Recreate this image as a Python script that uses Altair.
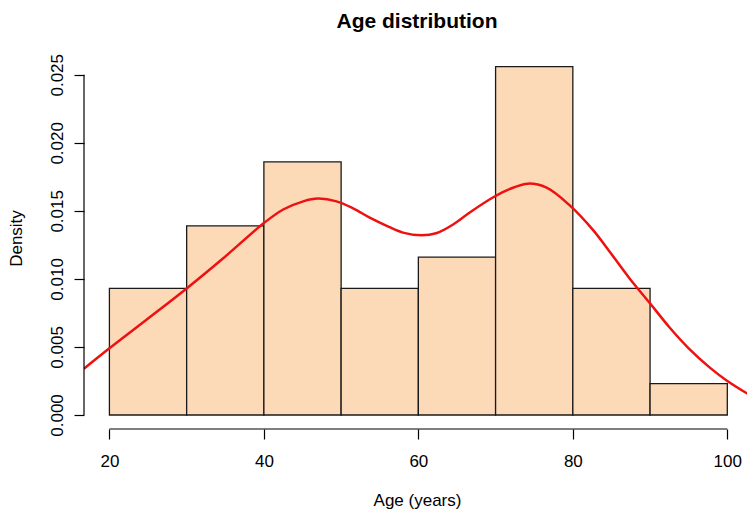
import altair as alt
import pandas as pd

# Histogram bins (Age, years) and densities
bin_start = [20, 30, 40, 50, 60, 70, 80, 90]
bin_end = [30, 40, 50, 60, 70, 80, 90, 100]
bin_density = [0.0093, 0.0139, 0.0186, 0.0093, 0.0116, 0.0256, 0.0093, 0.0023]

# Kernel density curve
curve_x = [16.7, 20, 24.8, 30, 34.7, 40, 42.5, 45.1, 47.0, 49.4, 51.5, 53.7, 55.9, 58.0, 60.4, 62.3,
           64.5, 66.7, 69.7, 71.8, 74.2, 76.6, 79.6, 82.6, 84.9, 87.4, 90, 92.5, 95, 97.7, 100, 103.1]
curve_y = [0.0034, 0.0049, 0.0070, 0.0093, 0.0115, 0.0141, 0.0151, 0.0157, 0.0159, 0.0157, 0.0152,
           0.0145, 0.0139, 0.0134, 0.0132, 0.01335, 0.0140, 0.0149, 0.0160, 0.0166, 0.0170, 0.0167,
           0.0154, 0.0136, 0.0119, 0.0100, 0.0082, 0.00645, 0.0049, 0.0035, 0.0025, 0.0014]

x_ticks = [20, 40, 60, 80, 100]
y_ticks = [0.0, 0.005, 0.010, 0.015, 0.020, 0.025]

bars = pd.DataFrame({"start": bin_start, "end": bin_end, "density": bin_density})
curve = pd.DataFrame({"age": curve_x, "dens": curve_y})
title_df = pd.DataFrame({"t": ["Age distribution"]})

FONT = "Liberation Sans"
W, H = 663, 376

xscale = alt.Scale(domain=[16.71, 102.55], nice=False, zero=False)
yscale = alt.Scale(domain=[-0.00103, 0.0266], nice=False, zero=False)

xaxis = alt.Axis(values=x_ticks, format="d", title="Age (years)", domain=False, grid=False,
                 tickSize=10, tickColor="#000", tickWidth=1.2, labelPadding=14,
                 labelFont=FONT, labelFontSize=17, labelColor="#000",
                 titleFont=FONT, titleFontSize=17, titleFontWeight="normal", titleColor="#000",
                 titleBaseline="alphabetic", titleX=333, titleY=76, titleAnchor="middle",
                 titleAlign="center")
yaxis = alt.Axis(values=y_ticks, format=".3f", title="Density", domain=False, grid=False,
                 tickSize=10, tickColor="#000", tickWidth=1.2, labelPadding=12,
                 labelAngle=270, labelAlign="center", labelBaseline="alphabetic",
                 labelFont=FONT, labelFontSize=17, labelColor="#000",
                 titleFont=FONT, titleFontSize=17, titleFontWeight="normal", titleColor="#000",
                 titleAngle=270, titleAlign="center", titleBaseline="alphabetic",
                 titleX=-63, titleY=185)

hist = alt.Chart(bars).mark_rect(fill="#FCDAB8", stroke="#1a1a1a", strokeWidth=1.3).encode(
    x=alt.X("start:Q", scale=xscale, axis=xaxis),
    x2="end:Q",
    y=alt.Y("density:Q", scale=yscale, axis=yaxis),
    y2=alt.datum(0),
)

line = alt.Chart(curve).mark_line(color="#EE1111", strokeWidth=2.5, clip=True,
                                  interpolate="catmull-rom").encode(
    x=alt.X("age:Q", scale=xscale),
    y=alt.Y("dens:Q", scale=yscale),
)

xline = alt.Chart(pd.DataFrame({"a": [20], "b": [100]})).mark_rule(color="#000", strokeWidth=1.2).encode(
    x=alt.X("a:Q", scale=xscale), x2="b:Q", y=alt.value(H)
)
yline = alt.Chart(pd.DataFrame({"a": [0.0], "b": [0.025]})).mark_rule(color="#000", strokeWidth=1.2).encode(
    y=alt.Y("a:Q", scale=yscale), y2="b:Q", x=alt.value(0)
)

title = alt.Chart(title_df).mark_text(font=FONT, fontSize=21, fontWeight="bold", color="#000",
                                      align="center", baseline="alphabetic").encode(
    text="t:N", x=alt.value(333), y=alt.value(-25)
)

chart = alt.layer(hist, line, xline, yline, title).properties(
    width=W, height=H,
    padding={"left": 76, "top": 45, "right": 0, "bottom": 80},
    autosize="none",
).configure_view(stroke=None)

chart.save("out.html", embed_options={"renderer": "svg", "actions": False})
